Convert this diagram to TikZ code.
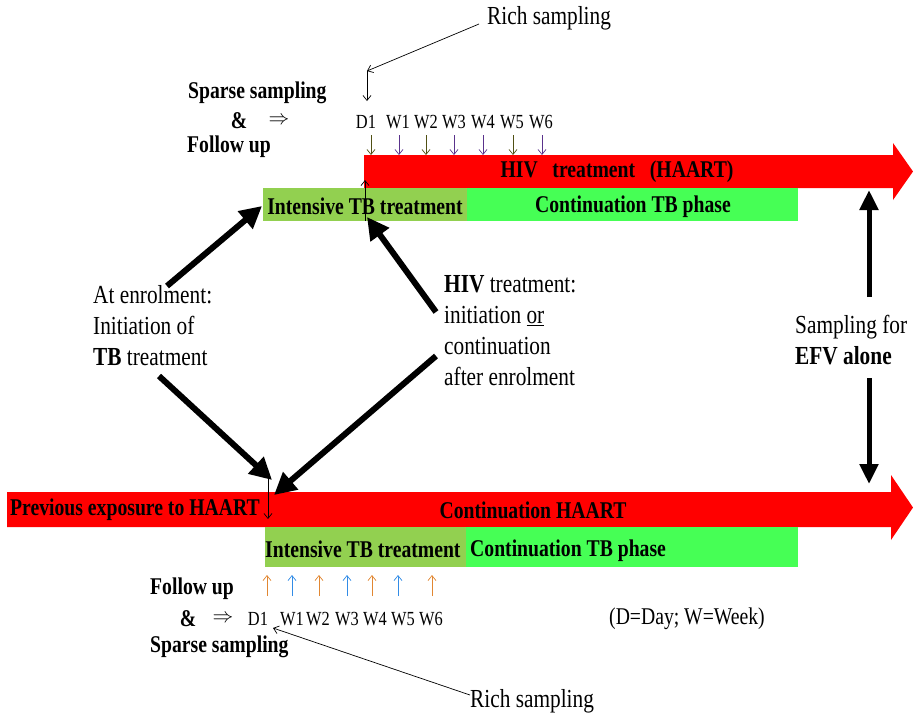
\documentclass[tikz,border=0pt]{standalone}
\usepackage{fontspec}
\setmainfont{Liberation Serif}[FakeStretch=0.82]
\usetikzlibrary{arrows.meta}
\definecolor{hivred}{RGB}{255,0,0}
\definecolor{olivegr}{RGB}{146,208,80}
\definecolor{brightgr}{RGB}{70,255,85}
\definecolor{wkolive}{RGB}{80,80,20}
\definecolor{wkpurple}{RGB}{90,50,140}
\definecolor{wkorange}{RGB}{225,135,50}
\definecolor{wkblue}{RGB}{50,140,230}
\begin{document}
\begin{tikzpicture}[x=1pt,y=-1pt,
 bl/.style={font=\bfseries\fontsize{24}{28}\selectfont, inner sep=0pt},
 rg/.style={font=\fontsize{26}{31}\selectfont, inner sep=0pt, align=left},
 wk/.style={font=\fontsize{20}{24}\selectfont, inner sep=0pt},
 bigarrow/.style={line width=6pt, -{Triangle[length=22pt,width=22pt]}},
 efvarrow/.style={line width=5pt, -{Triangle[length=20pt,width=18pt]}},
 thinarrow/.style={line width=0.7pt, -{Straight Barb[length=5pt,width=8pt]}},
 band/.style={draw=none, inner sep=0pt, outer sep=0pt},
]
\useasboundingbox (0,0) rectangle (913,716);

% ---------- top timeline ----------
\fill[hivred] (364,155) -- (893,155) -- (893,143) -- (913,171.5) -- (893,200) -- (893,188) -- (364,188) -- cycle;
\node[band, fill=olivegr, minimum width=204pt, minimum height=33pt] (tint) at (365,204.5) {};
\node[band, fill=brightgr, minimum width=331pt, minimum height=33pt] (tcont) at (632.5,204.5) {};
\node[bl] (thiv) at (617,172) {HIV~~~treatment~~~(HAART)};
\node[bl] (tintt) at (365,206) {Intensive TB treatment};
\node[bl] (tcontt) at (633,207) {Continuation TB phase};

% ---------- bottom timeline ----------
\fill[hivred] (7,492) -- (891,492) -- (891,475) -- (913,507.5) -- (891,540) -- (891,527) -- (7,527) -- cycle;
\node[band, fill=olivegr, minimum width=201pt, minimum height=40pt] (bint) at (365.5,547) {};
\node[band, fill=brightgr, minimum width=332pt, minimum height=40pt] (bcont) at (632,547) {};
\node[bl, anchor=west] (prev) at (10,510) {Previous exposure to HAART};
\node[bl] (bcha) at (533,510) {Continuation HAART};
\node[bl, anchor=west] (bintt) at (265,549) {Intensive TB treatment};
\node[bl, anchor=west] (bcontt) at (470,551) {Continuation TB phase};

% ---------- top sampling ----------
\node[rg, anchor=west] (rich1) at (487,18) {Rich sampling};
\coordinate (r1) at (367,71);
\coordinate (r1b) at (367,101);
\coordinate (r1s) at (479,24);
\draw[thinarrow] (r1s) -- (r1);
\draw[thinarrow] (r1) -- (r1b);
\node[bl, anchor=west] (tsparse) at (188,93) {Sparse sampling};
\node[bl] (tamp) at (239,121) {\&};
\node[wk] (timp) at (279,121) {$\Rightarrow$};
\node[bl, anchor=west] (tfollow) at (187,147) {Follow up};
\foreach \lab/\lx/\ax/\col [count=\i] in {D1/366/371/wkolive, W1/398/399/wkpurple, W2/426/426/wkolive, W3/454/454/wkpurple, W4/483/483/wkpurple, W5/512/513/wkolive, W6/541/542/wkpurple}{
  \node[wk] (tw\i) at (\lx,122) {\lab};
  \coordinate (tws\i) at (\ax,135);
  \coordinate (twe\i) at (\ax,155);
  \draw[thinarrow, draw=\col] (tws\i) -- (twe\i);
}
\coordinate (tup1) at (365,221);
\coordinate (tup2) at (365,180);
\draw[thinarrow] (tup1) -- (tup2);

% ---------- bottom sampling ----------
\node[bl, anchor=west] (bfollow) at (150,589) {Follow up};
\node[bl] (bamp) at (188,619) {\&};
\node[wk] (bimp) at (223,619) {$\Rightarrow$};
\node[bl, anchor=west] (bsparse) at (150,647) {Sparse sampling};
\foreach \lab/\lx/\ax/\col [count=\i] in {D1/258/267/wkorange, W1/292/292/wkblue, W2/318/319/wkorange, W3/347/347/wkblue, W4/375/372/wkorange, W5/403/398/wkblue, W6/431/432/wkorange}{
  \node[wk] (bw\i) at (\lx,619) {\lab};
  \coordinate (bws\i) at (\ax,596);
  \coordinate (bwe\i) at (\ax,575);
  \draw[thinarrow, draw=\col] (bws\i) -- (bwe\i);
}
\node[rg, anchor=west] (rich2) at (470,701) {Rich sampling};
\coordinate (r2s) at (470,695);
\coordinate (r2) at (273,628);
\draw[thinarrow] (r2s) -- (r2);
\coordinate (bdn1) at (268,474);
\coordinate (bdn2) at (268,519);
\draw[thinarrow] (bdn1) -- (bdn2);
\node[rg, anchor=west] (dw) at (609,619) {\fontsize{24}{28}\selectfont(D=Day; W=Week)};

% ---------- labels and big arrows ----------
\node[rg, anchor=west] (enrol) at (93,326) {At enrolment:\\Initiation of\\\textbf{TB} treatment};
\node[rg, anchor=west] (hivl) at (444,331) {\textbf{HIV} treatment:\\initiation \underline{or}\\continuation\\after enrolment};
\coordinate (a1s) at (167,286);
\coordinate (a1e) at (262,206);
\coordinate (a2s) at (159,376);
\coordinate (a2e) at (272,480);
\coordinate (a3s) at (436,312);
\coordinate (a3e) at (367,217);
\coordinate (a4s) at (436,356);
\coordinate (a4e) at (274,495);
\draw[bigarrow] (a1s) -- (a1e);
\draw[bigarrow] (a2s) -- (a2e);
\draw[bigarrow] (a3s) -- (a3e);
\draw[bigarrow] (a4s) -- (a4e);

\node[rg, anchor=west] (efv) at (795,340) {Sampling for\\\textbf{EFV alone}};
\coordinate (e1s) at (869,297);
\coordinate (e1e) at (869,190);
\coordinate (e2s) at (869,378);
\coordinate (e2e) at (869,484);
\draw[efvarrow] (e1s) -- (e1e);
\draw[efvarrow] (e2s) -- (e2e);
\end{tikzpicture}
\end{document}
